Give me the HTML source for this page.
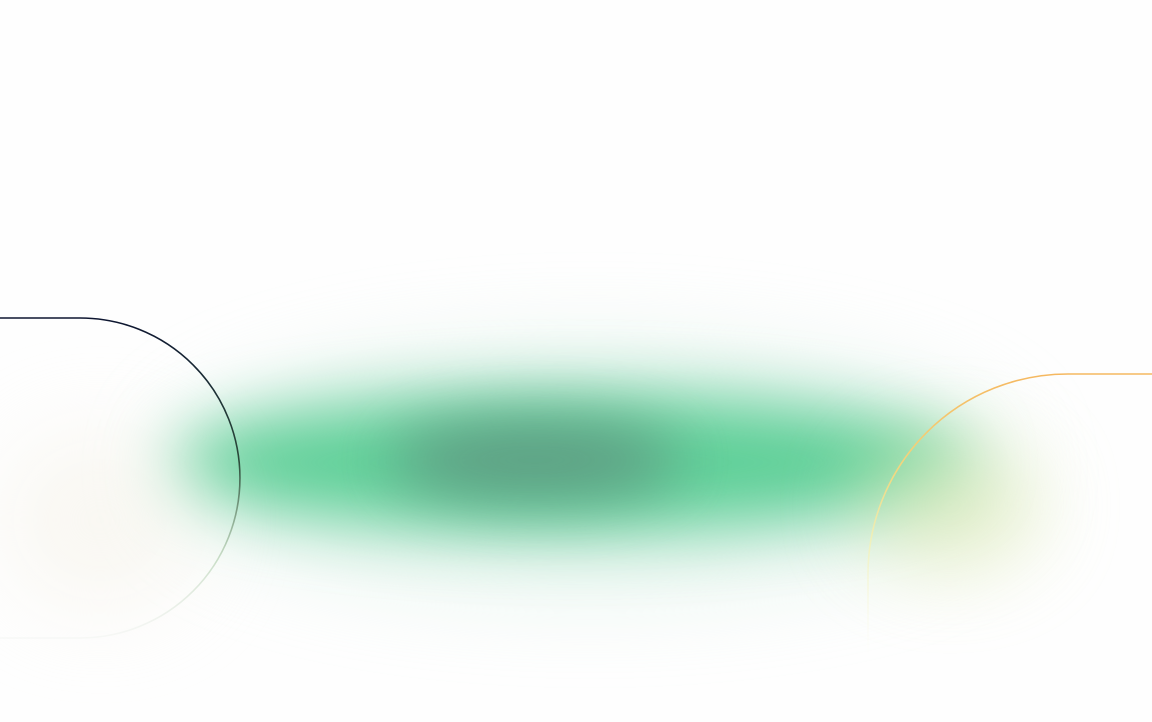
<!DOCTYPE html>
<html><head><meta charset="utf-8"><style>
html,body{margin:0;padding:0;width:1152px;height:722px;overflow:hidden;background:#fefefe}
.b{position:absolute;border-radius:50%}
</style></head><body>
<div style="position:absolute;inset:0;overflow:hidden">
  <div class="b" style="left:170px;top:350px;width:840px;height:240px;background:#cdeadc;filter:blur(45px);opacity:.5"></div>
  <div class="b" style="left:170px;top:395px;width:800px;height:135px;background:#5fcf98;filter:blur(32px);opacity:1"></div>
  <div class="b" style="left:390px;top:420px;width:290px;height:80px;background:#5f9580;filter:blur(30px);opacity:.85"></div>
  <div class="b" style="left:860px;top:440px;width:180px;height:130px;background:#dce8b0;filter:blur(40px);opacity:.6"></div>
  <div class="b" style="left:0px;top:430px;width:200px;height:180px;background:#f4f1e6;filter:blur(45px);opacity:.5"></div>
  <svg width="1152" height="722" style="position:absolute;left:0;top:0">
    <defs>
      <linearGradient id="gl" x1="0" y1="318" x2="0" y2="638" gradientUnits="userSpaceOnUse">
        <stop offset="0" stop-color="#0d1530"/>
        <stop offset="0.45" stop-color="#2b4a3a"/>
        <stop offset="0.75" stop-color="#a9c9a5" stop-opacity=".6"/>
        <stop offset="1" stop-color="#e8ece8" stop-opacity=".3"/>
      </linearGradient>
      <linearGradient id="gr" x1="0" y1="374" x2="0" y2="660" gradientUnits="userSpaceOnUse">
        <stop offset="0" stop-color="#f5b860"/>
        <stop offset="0.35" stop-color="#f3d880"/>
        <stop offset="0.6" stop-color="#f4f2b8" stop-opacity=".8"/>
        <stop offset="1" stop-color="#fbfbf0" stop-opacity="0"/>
      </linearGradient>
    </defs>
    <path d="M-10 318 H80 A160 160 0 0 1 80 638 H-10" fill="none" stroke="url(#gl)" stroke-width="1.6"/>
    <path d="M1160 374 H1068 A200 200 0 0 0 868 574 V722" fill="none" stroke="url(#gr)" stroke-width="1.6"/>
  </svg>
</div>
</body></html>
